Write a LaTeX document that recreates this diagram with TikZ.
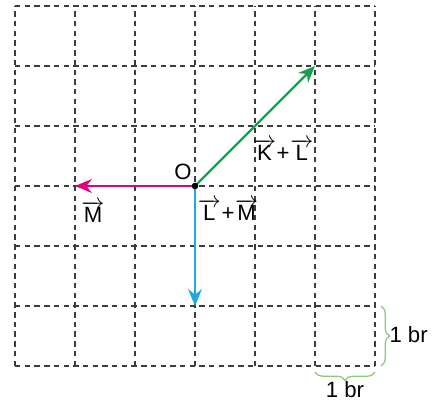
\documentclass[tikz,border=0pt]{standalone}
\usepackage{fontspec}
\setmainfont{Liberation Sans}
\usetikzlibrary{arrows.meta,decorations.pathreplacing}
\definecolor{kgreen}{RGB}{20,160,80}
\definecolor{mmag}{RGB}{228,0,125}
\definecolor{lblue}{RGB}{30,170,220}
\definecolor{bgreen}{RGB}{140,200,120}
\definecolor{gridgray}{RGB}{60,60,60}
\newcommand\vvec[1]{\kern0.3pt$\overrightarrow{\mbox{\kern-1.6pt#1\kern-1.6pt}}$\kern0.3pt}
\tikzset{
  gridline/.style={draw=gridgray,line width=0.7pt,dash pattern=on 2.6pt off 2pt},
  vecarrow/.style={line width=1.1pt,-{Stealth[length=2.8mm,width=2.3mm]}},
  lbl/.style={font=\fontsize{10.5}{12}\selectfont,inner sep=1pt},
  bracestyle/.style={draw=bgreen,line width=0.6pt,decorate,decoration={brace,amplitude=4pt}}
}
\begin{document}
\begin{tikzpicture}
\useasboundingbox (-0.25,-0.65) rectangle (7.0,6.1);
\foreach \i in {0,...,6} {
  \draw[gridline] (\i,0) -- (\i,6);
  \draw[gridline] (0,\i) -- (6,\i);
}
\coordinate (O) at (3,3);
\coordinate (K) at (5,5);
\coordinate (M) at (1,3);
\coordinate (L) at (3,1);
\draw[vecarrow,draw=kgreen,fill=kgreen] (O) -- (K);
\draw[vecarrow,draw=mmag,fill=mmag] (O) -- (M);
\draw[vecarrow,draw=lblue,fill=lblue] (O) -- (L);
\fill[black] (O) circle (0.055);
\node[lbl] (lo) at (2.8,3.24) {O};
\node[lbl] (lm) at (1.3,2.57) {\vvec{M}};
\node[lbl] (lkl) at (4.47,3.6) {\vvec{K} +\vvec{L}};
\node[lbl] (llm) at (3.55,2.6) {\vvec{L} +\vvec{M}};
\coordinate (b1) at (6.1,1);
\coordinate (b2) at (6.1,0);
\coordinate (b3) at (6,-0.1);
\coordinate (b4) at (5,-0.1);
\draw[bracestyle] (b1) -- (b2);
\draw[bracestyle] (b3) -- (b4);
\node[lbl,anchor=west] (br1) at (6.2,0.52) {1 br};
\node[lbl] (br2) at (5.5,-0.4) {1 br};
\end{tikzpicture}
\end{document}
